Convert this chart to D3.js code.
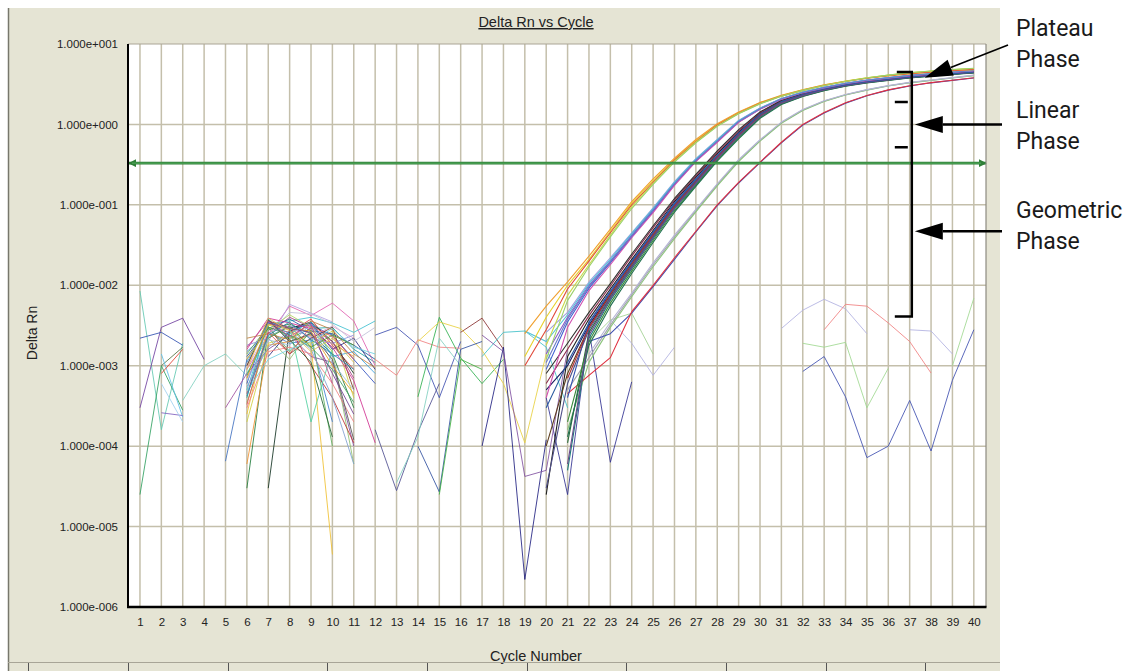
<!DOCTYPE html>
<html>
<head>
<meta charset="utf-8">
<script src="https://cdn.jsdelivr.net/npm/d3@7"></script>
<style>
  html, body { margin: 0; padding: 0; background: #fff; }
  svg { display: block; }
  .lbl { font-family: "Liberation Sans", Arial, sans-serif; fill: #222; }
  .phase { font-family: Roboto, "Noto Sans", sans-serif; font-size: 23px; fill: #1a1a1a; }
</style>
</head>
<body>
<svg id="chart" width="1126" height="671"></svg>
<script>
// ---------- data (Delta Rn per cycle) ----------
const cycles = d3.range(1, 41);
const decades = [1e-6, 1e-5, 1e-4, 1e-3, 1e-2, 1e-1, 1, 10];
const threshold = 0.33;

// amplification curves: [first cycle, values from that cycle on]
const ampCurves = [
  // late pair (grey / green)
  [21, [5.0e-4, 1.26e-3, 3.2e-3, 7.6e-3, 1.8e-2, 4.0e-2, 8.5e-2, 0.178, 0.355, 0.63, 1.05, 1.51, 1.95, 2.34, 2.69, 3.02, 3.31, 3.55, 3.80, 4.07]],
  [21, [1.6e-4, 1.1e-3, 3.0e-3, 7.2e-3, 1.7e-2, 3.8e-2, 8.2e-2, 0.172, 0.345, 0.62, 1.03, 1.49, 1.93, 2.32, 2.67, 3.00, 3.29, 3.53, 3.78, 4.04]],
  [22, [1.4e-3, 3.5e-3, 8.0e-3, 1.9e-2, 4.2e-2, 8.8e-2, 0.183, 0.365, 0.645, 1.07, 1.53, 1.97, 2.36, 2.71, 3.04, 3.33, 3.57, 3.82, 4.10]],
  // latest pair (blue / red)
  [22, [2.0e-3, 2.5e-3, 4.5e-3, 9.6e-3, 2.1e-2, 4.6e-2, 0.098, 0.187, 0.335, 0.59, 0.98, 1.39, 1.84, 2.27, 2.67, 3.00, 3.29, 3.53, 3.78]],
  [21, [4.5e-4, 7.6e-4, 1.26e-3, 4.7e-3, 1.0e-2, 2.2e-2, 4.7e-2, 0.10, 0.19, 0.34, 0.60, 1.0, 1.41, 1.86, 2.29, 2.69, 3.02, 3.31, 3.55, 3.80]],
  // main group
  [20, [5.0e-4, 1.0e-3, 3.2e-3, 7.9e-3, 1.9e-2, 4.4e-2, 0.10, 0.20, 0.40, 0.76, 1.32, 1.91, 2.34, 2.75, 3.09, 3.39, 3.63, 3.89, 4.07, 4.27, 4.47]],
  [20, [2.5e-5, 1.3e-3, 3.8e-3, 9.0e-3, 2.1e-2, 4.8e-2, 0.11, 0.22, 0.43, 0.80, 1.36, 1.95, 2.40, 2.80, 3.15, 3.45, 3.70, 3.95, 4.15, 4.35, 4.55]],
  [21, [1.1e-4, 2.6e-3, 7.0e-3, 1.7e-2, 4.0e-2, 9.3e-2, 0.19, 0.38, 0.72, 1.27, 1.86, 2.30, 2.70, 3.05, 3.35, 3.60, 3.85, 4.05, 4.25, 4.45]],
  [20, [1.0e-4, 8.0e-4, 3.0e-3, 7.5e-3, 1.8e-2, 4.2e-2, 9.6e-2, 0.195, 0.39, 0.74, 1.30, 1.89, 2.32, 2.72, 3.06, 3.36, 3.61, 3.86, 4.05, 4.24, 4.43]],
  [21, [4.0e-4, 3.5e-3, 8.5e-3, 2.0e-2, 4.6e-2, 0.105, 0.21, 0.41, 0.78, 1.34, 1.93, 2.37, 2.78, 3.12, 3.42, 3.67, 3.92, 4.10, 4.30, 4.50]],
  [21, [5.0e-5, 2.2e-3, 6.5e-3, 1.6e-2, 3.8e-2, 8.9e-2, 0.18, 0.37, 0.70, 1.24, 1.83, 2.27, 2.68, 3.02, 3.32, 3.57, 3.82, 4.02, 4.22, 4.42]],
  [20, [6.0e-4, 1.6e-3, 4.2e-3, 9.8e-3, 2.3e-2, 5.2e-2, 0.115, 0.23, 0.45, 0.83, 1.40, 1.98, 2.42, 2.82, 3.16, 3.46, 3.71, 3.96, 4.16, 4.36, 4.56]],
  [21, [2.0e-4, 2.0e-3, 6.0e-3, 1.5e-2, 3.6e-2, 8.5e-2, 0.175, 0.36, 0.68, 1.22, 1.80, 2.24, 2.65, 3.00, 3.30, 3.55, 3.80, 4.00, 4.20, 4.40]],
  [20, [3.0e-5, 6.0e-4, 2.8e-3, 7.2e-3, 1.75e-2, 4.1e-2, 9.4e-2, 0.19, 0.385, 0.73, 1.29, 1.88, 2.31, 2.71, 3.05, 3.35, 3.60, 3.85, 4.03, 4.22, 4.41]],
  [21, [7.0e-4, 3.0e-3, 7.8e-3, 1.85e-2, 4.3e-2, 0.098, 0.20, 0.395, 0.75, 1.31, 1.90, 2.33, 2.74, 3.08, 3.38, 3.62, 3.88, 4.06, 4.26, 4.46]],
  [21, [1.3e-4, 1.8e-3, 5.5e-3, 1.4e-2, 3.4e-2, 8.1e-2, 0.17, 0.35, 0.66, 1.19, 1.77, 2.22, 2.62, 2.98, 3.28, 3.53, 3.78, 3.98, 4.18, 4.38]],
  [20, [8.0e-4, 1.9e-3, 4.6e-3, 1.05e-2, 2.45e-2, 5.5e-2, 0.12, 0.24, 0.47, 0.86, 1.43, 2.00, 2.44, 2.84, 3.18, 3.48, 3.73, 3.98, 4.18, 4.38, 4.58]],
  [21, [6.0e-5, 2.4e-3, 6.8e-3, 1.65e-2, 3.9e-2, 9.1e-2, 0.185, 0.375, 0.71, 1.25, 1.84, 2.28, 2.69, 3.03, 3.33, 3.58, 3.83, 4.03, 4.23, 4.43]],
  [20, [3.0e-4, 1.1e-3, 3.4e-3, 8.2e-3, 1.95e-2, 4.5e-2, 0.102, 0.205, 0.41, 0.77, 1.33, 1.92, 2.35, 2.76, 3.10, 3.40, 3.64, 3.90, 4.08, 4.28, 4.48]],
  // second group
  [20, [1.4e-3, 4.0e-3, 1.0e-2, 2.0e-2, 4.2e-2, 8.7e-2, 0.186, 0.363, 0.63, 1.10, 1.58, 2.09, 2.51, 2.88, 3.24, 3.55, 3.80, 4.07, 4.27, 4.47, 4.68]],
  [20, [2.6e-3, 4.6e-3, 1.1e-2, 2.2e-2, 4.5e-2, 9.2e-2, 0.195, 0.375, 0.65, 1.12, 1.60, 2.10, 2.52, 2.90, 3.25, 3.56, 3.82, 4.08, 4.28, 4.48, 4.70]],
  [20, [9.0e-4, 3.5e-3, 9.2e-3, 1.9e-2, 4.0e-2, 8.3e-2, 0.180, 0.350, 0.61, 1.07, 1.55, 2.06, 2.48, 2.85, 3.20, 3.52, 3.78, 4.04, 4.24, 4.44, 4.64]],
  [20, [4.0e-4, 3.0e-3, 8.6e-3, 1.8e-2, 3.9e-2, 8.0e-2, 0.175, 0.345, 0.60, 1.06, 1.54, 2.05, 2.47, 2.84, 3.20, 3.50, 3.76, 4.02, 4.22, 4.42, 4.62]],
  [19, [2.7e-3, 2.0e-3, 4.3e-3, 1.05e-2, 2.1e-2, 4.4e-2, 9.0e-2, 0.190, 0.37, 0.64, 1.11, 1.59, 2.10, 2.52, 2.90, 3.25, 3.56, 3.82, 4.08, 4.28, 4.48, 4.70]],
  [20, [1.1e-3, 3.8e-3, 9.6e-3, 1.95e-2, 4.1e-2, 8.6e-2, 0.183, 0.357, 0.62, 1.09, 1.57, 2.08, 2.50, 2.87, 3.23, 3.54, 3.79, 4.05, 4.25, 4.45, 4.66]],
  // earliest group
  [19, [1.3e-3, 4.0e-3, 1.0e-2, 2.1e-2, 4.7e-2, 0.105, 0.20, 0.37, 0.63, 1.0, 1.41, 1.86, 2.29, 2.69, 3.09, 3.47, 3.80, 4.07, 4.37, 4.57, 4.79, 4.95]],
  [19, [2.5e-3, 5.5e-3, 1.1e-2, 2.3e-2, 5.0e-2, 0.11, 0.21, 0.38, 0.65, 1.02, 1.43, 1.88, 2.30, 2.70, 3.10, 3.45, 3.75, 4.00, 4.25, 4.45, 4.65, 4.80]],
  [19, [1.0e-3, 2.8e-3, 9.0e-3, 2.0e-2, 4.5e-2, 0.10, 0.19, 0.36, 0.61, 0.98, 1.38, 1.83, 2.25, 2.65, 3.05, 3.42, 3.75, 4.05, 4.30, 4.50, 4.70, 4.85]],
  [20, [1.8e-3, 7.5e-3, 1.8e-2, 4.2e-2, 9.5e-2, 0.185, 0.35, 0.60, 0.96, 1.37, 1.82, 2.25, 2.65, 3.05, 3.45, 3.80, 4.10, 4.40, 4.60, 4.80, 4.95]],
  [20, [1.2e-3, 6.5e-3, 1.7e-2, 4.0e-2, 9.0e-2, 0.18, 0.34, 0.59, 0.95, 1.36, 1.80, 2.24, 2.65, 3.05, 3.42, 3.78, 4.10, 4.40, 4.62, 4.82, 5.00]]
];
const ampColors = [
  "#a4a4b0", "#8cc47c", "#b4b4d4",
  "#4050b0", "#e03040",
  "#1a1a60", "#202020", "#2a6a3a", "#604020", "#3050b0", "#1a7a7a", "#8a2a4a",
  "#3a8a3a", "#50508a", "#b03030", "#207050", "#303030", "#6a4a8a", "#2a5aa0",
  "#8a5ac8", "#a0a0e0", "#4060d0", "#d050b0", "#50c0d8", "#6a7ac8",
  "#e8d02a", "#f0a030", "#e04a3a", "#c8d84a", "#9ad06a"
];

// baseline noise: [first cycle, values] (negative readings leave gaps)
const baselineTraces = [
  [6, [6.0e-4, 3.5e-3, 3.0e-3, 3.2e-3, 2.4e-3, 1.2e-3, 6.0e-4]],
  [6, [1.2e-3, 3.0e-3, 2.6e-3, 3.8e-3, 1.8e-3, 9.0e-4]],
  [6, [3.0e-5, 2.8e-3, 3.3e-3, 2.5e-3, 1.4e-3, 3.0e-4]],
  [6, [4.0e-4, 3.8e-3, 2.2e-3, 2.9e-3, 3.0e-3, 1.6e-3, 1.1e-3]],
  [7, [3.0e-5, 2.9e-3, 3.5e-3, 2.0e-3, 8.0e-4]],
  [6, [9.0e-4, 2.4e-3, 5.5e-3, 4.2e-3, 6.0e-3, 3.6e-3, 1.0e-3]],
  [6, [7.0e-4, 2.0e-3, 5.8e-3, 4.5e-3, 3.5e-3]],
  [6, [2.5e-4, 3.2e-3, 2.8e-3, 1.8e-3, 4.5e-6]],
  [6, [1.5e-3, 2.6e-3, 1.9e-3, 2.1e-3, 2.0e-4]],
  [6, [5.0e-4, 3.3e-3, 3.6e-3, 4.0e-3, 3.4e-3, 2.6e-3, 3.6e-3]],
  [6, [8.0e-4, 1.6e-3, 2.4e-3, 1.3e-3, 1.1e-3, 1.0e-4]],
  [6, [3.5e-4, 2.2e-3, 1.2e-3, 2.8e-3, 1.5e-3, 6.0e-5]],
  [6, [1.0e-3, 3.6e-3, 3.0e-3, 1.0e-3, 4.0e-4, 1.1e-4]],
  [6, [6.0e-5, 1.8e-3, 2.0e-3, 2.4e-3, 1.9e-3, 1.3e-3]],
  [7, [1.3e-3, 2.7e-3, 3.4e-3, 1.6e-3, 2.2e-3, 9.0e-4]],
  [6, [1.4e-3, 3.1e-3, 1.5e-3, 2.6e-3, 1.0e-4]],
  [6, [4.5e-4, 2.5e-3, 4.0e-3, 3.0e-3, 2.0e-3, 7.0e-4]],
  [6, [2.0e-4, 1.9e-3, 2.3e-3, 1.9e-3, 2.7e-3, 4.0e-4]],
  [6, [1.1e-3, 3.4e-3, 2.5e-3, 3.5e-3, 1.3e-3, 1.5e-3, 8.0e-4]],
  [7, [3.0e-3, 1.4e-3, 2.2e-3, 3.0e-3, 5.0e-4]],
  [6, [8.0e-4, 2.3e-3, 3.1e-3, 2.0e-4, 1.6e-3]],
  [6, [3.0e-4, 1.5e-3, 1.7e-3, 1.4e-3, 6.0e-4, 2.0e-4]],
  [6, [1.3e-3, 2.9e-3, 3.8e-3, 2.7e-3, 2.5e-3, 1.8e-3, 1.2e-3]],
  [6, [6.5e-4, 2.1e-3, 1.8e-3, 3.3e-3, 1.1e-3, 5.0e-4]],
  [7, [3.7e-3, 2.1e-3, 1.1e-3, 1.3e-4]],
  [6, [9.5e-4, 2.7e-3, 2.9e-3, 2.3e-3, 3.1e-3, 2.2e-3]],
  [6, [1.6e-3, 3.9e-3, 3.4e-3, 2.9e-3, 1.7e-3, 6.5e-4, 1.1e-4]],
  [6, [5.5e-4, 1.7e-3, 2.7e-3, 1.6e-3, 4.0e-4, 6.0e-5]],
  [6, [2.2e-3, 2.5e-3, 2.1e-3, 3.6e-3, 2.8e-3, 1.4e-3, 9.5e-4]],
  [6, [7.5e-4, 3.0e-3, 2.4e-3, 1.7e-3, 9.0e-4, 3.5e-4]],
  [6, [1.8e-3, 2.2e-3, 3.2e-3, 2.2e-3, 1.9e-3, 2.4e-3]],
  [6, [3.3e-4, 2.6e-3, 1.4e-3, 3.1e-3, 2.3e-3, 1.2e-3]],
  [7, [2.4e-3, 4.6e-3, 4.4e-3, 3.3e-3, 2.0e-3, 3.0e-3]],
  [6, [1.0e-3, 3.7e-3, 2.0e-3, 2.5e-3, 1.2e-3, 1.2e-4]],
  [6, [4.8e-4, 1.2e-3, 1.6e-3, 2.0e-3, 2.9e-3, 1.7e-3, 1.4e-3]],
  [6, [1.2e-3, 2.8e-3, 4.3e-3, 3.0e-3, 1.5e-3]],
  [6, [7.0e-4, 3.3e-3, 2.9e-3, 2.7e-3, 1.0e-3, 4.5e-4]],
  [7, [2.2e-3, 3.1e-3, 1.7e-3, 2.4e-3, 1.8e-3]],
  [6, [1.7e-3, 3.6e-3, 2.3e-3, 3.3e-3, 6.0e-4]],
  [6, [4.2e-4, 2.4e-3, 3.5e-3, 2.1e-3, 1.4e-3, 9.0e-4]],
  [7, [3.4e-3, 2.9e-3, 2.6e-3, 8.0e-4, 2.5e-4]],
  [6, [9.0e-4, 3.9e-3, 2.7e-3, 1.5e-3, 2.2e-3, 1.1e-3]],
  // first cycles
  [1, [8.5e-3, 1.6e-4, 1.9e-3]],
  [1, [3.0e-4, 3.0e-3, 3.9e-3, 1.2e-3]],
  [1, [2.2e-3, 2.6e-3, 1.8e-3]],
  [1, [2.5e-5, 1.0e-3, 2.8e-4]],
  [2, [1.0e-3, 1.7e-3]],
  [2, [1.4e-3, 2.3e-4]],
  [2, [2.6e-4, 2.4e-4]],
  [2, [8.0e-4, 1.6e-3]],
  [3, [3.7e-4, 1.0e-3, 1.4e-3, 7.5e-4]],
  [5, [6.5e-5, 1.2e-3]],
  [5, [3.0e-4, 8.0e-4]],
  [2, [6.0e-4, 2.0e-4]],
  // cycles 12 - 26
  [12, [2.4e-3, 3.0e-3, 1.8e-3, 4.0e-4, 2.0e-3]],
  [12, [1.2e-3, 7.6e-4, 2.1e-3, 1.7e-3, 1.65e-3]],
  [16, [2.6e-3, 3.9e-3, 1.6e-3]],
  [14, [4.1e-4, 4.0e-3, 1.25e-3, 6.0e-4, 1.2e-3]],
  [14, [2.0e-3, 3.5e-3, 2.9e-3, 1.55e-3, 6.0e-4, 1.1e-4, 1.4e-3]],
  [12, [1.6e-4, 2.8e-5, 1.5e-4, 6.0e-4]],
  [13, [3.5e-5, 1.3e-4, 2.2e-3, 1.0e-3]],
  [14, [1.0e-4, 2.7e-5, 1.6e-3, 2.0e-3]],
  [15, [2.5e-5, 1.2e-3, 9.0e-4]],
  [17, [1.3e-3, 2.6e-3, 2.7e-3, 1.7e-3, 3.0e-4]],
  [17, [1.0e-4, 1.7e-3, 2.2e-6, 1.2e-4]],
  [20, [4.0e-4, 2.5e-5, 2.8e-3, 6.3e-5, 6.3e-4]],
  [17, [2.4e-3, 1.5e-3, 4.2e-5, 5.0e-5, 1.6e-3]],
  [23, [3.7e-3, 1.9e-3, 7.6e-4, 1.7e-3]],
  [22, [2.0e-3, 3.7e-3, 4.5e-3, 1.4e-3]],
  // cycles 31 - 40
  [31, [2.9e-3, 4.9e-3, 6.7e-3, 5.1e-3, 2.5e-3]],
  [37, [2.8e-3, 2.7e-3, 1.4e-3]],
  [33, [2.8e-3, 5.8e-3, 5.5e-3, 3.4e-3, 2.0e-3, 8.1e-4]],
  [32, [1.9e-3, 1.7e-3, 1.95e-3, 3.0e-4, 9.3e-4]],
  [39, [1.0e-3, 6.9e-3]],
  [32, [8.5e-4, 1.3e-3, 4.1e-4, 7.2e-5, 1.0e-4, 3.7e-4, 8.7e-5, 6.6e-4, 2.8e-3]]
];
const baselineColors = [
  "#3050c0", "#e04040", "#1f7a3a", "#20a0a0", "#103020", "#e060b0", "#b0a0e0", "#f0c030",
  "#4080d0", "#40c0d0", "#8050a0", "#90c070", "#c03030", "#f09030", "#2a2a80", "#60b060",
  "#a04080", "#d0d040", "#3aa0e0", "#7a3a20", "#50d0a0", "#f08080", "#2060a0", "#a0c0e0",
  "#206030", "#e0a0d0", "#d03090", "#80a0d0", "#c08040", "#40a060", "#9090e0", "#e05050",
  "#c0c0d8", "#505050", "#70d0e0", "#b0d060", "#e8a020", "#5a9a2a", "#c04a90", "#2a8ab0",
  "#704090", "#d8c050",
  "#60c8b0", "#7040a0", "#3050b0", "#30a060", "#507040", "#60c0e8", "#8060c0", "#e04030",
  "#80d0c0", "#4070c0", "#a050a0", "#a0d0f0",
  "#4050b0", "#f08080", "#8a3030", "#30b050", "#e8d040", "#505090", "#80d0c0", "#3050a0",
  "#40b040", "#40c0c8", "#202080", "#303090", "#8050a0", "#b0b0e0", "#a0d090",
  "#b0b0e0", "#b0b0e0", "#f08080", "#a0d890", "#a0d890", "#4050b0"
];

// phase annotation, in cycle / Delta Rn units
const bracket = { cycle: 37.1, top: 4.5, bottom: 4.1e-3, ticks: [1.9, 0.52] };
const phaseArrows = [
  { name: ["Linear", "Phase"], value: 1.0 },
  { name: ["Geometric", "Phase"], value: 0.047 }
];
const plateauTip = { cycle: 37.7, value: 3.8 };

// ---------- layout ----------
const svg = d3.select("#chart");
const plot = { left: 128, right: 986, top: 44, bottom: 607 };

const x = d3.scaleLinear().domain([0.44, 40.57]).range([plot.left, plot.right]);
const y = d3.scaleLog().domain([1e-6, 10]).range([plot.bottom, plot.top]);

function sci(v) {
    const e = Math.round(Math.log10(v));
    return "1.000e" + (e < 0 ? "-" : "+") + String(Math.abs(e)).padStart(3, "0");
}

// panel
svg.append("rect").attr("x", 8).attr("y", 8).attr("width", 992).attr("height", 663).attr("fill", "#e5e4d4");
svg.append("line").attr("x1", 8.5).attr("x2", 8.5).attr("y1", 8).attr("y2", 671)
    .attr("stroke", "#77776c").attr("stroke-width", 1.5);
svg.append("rect").attr("x", plot.left).attr("y", plot.top)
    .attr("width", plot.right - plot.left).attr("height", plot.bottom - plot.top).attr("fill", "#fff");

// grid
const grid = svg.append("g").attr("stroke", "#c4bfab").attr("stroke-width", 1.5);
grid.selectAll(".vg").data(cycles).enter().append("line")
    .attr("x1", d => x(d)).attr("x2", d => x(d))
    .attr("y1", plot.top).attr("y2", plot.bottom);
grid.selectAll(".hg").data(decades.slice(1, -1)).enter().append("line")
    .attr("x1", plot.left).attr("x2", plot.right)
    .attr("y1", d => y(d)).attr("y2", d => y(d));

// traces
const lineFunction = d3.line().x(d => x(d[0])).y(d => y(d[1]));
function toPoints(trace) {
    return trace[1].map((v, i) => [trace[0] + i, v]);
}
const traces = svg.append("g").attr("fill", "none").attr("stroke-width", 1).attr("stroke-linejoin", "round");
baselineTraces.forEach((t, i) => {
    traces.append("path").attr("d", lineFunction(toPoints(t)))
        .attr("stroke", baselineColors[i % baselineColors.length]).attr("opacity", 0.85);
});
ampCurves.forEach((t, i) => {
    traces.append("path").attr("d", lineFunction(toPoints(t)))
        .attr("stroke", ampColors[i]).attr("stroke-width", 1.1);
});

// threshold
const defs = svg.append("defs");
defs.append("marker").attr("id", "garrow").attr("viewBox", "0 0 10 10")
    .attr("refX", 9).attr("refY", 5).attr("markerWidth", 3).attr("markerHeight", 3)
    .attr("orient", "auto-start-reverse")
    .append("path").attr("d", "M0,0 L10,5 L0,10 z").attr("fill", "#2f7f38");
svg.append("line")
    .attr("x1", plot.left + 1).attr("x2", plot.right)
    .attr("y1", y(threshold)).attr("y2", y(threshold))
    .attr("stroke", "#2f7f38").attr("stroke-width", 2.6)
    .attr("marker-start", "url(#garrow)").attr("marker-end", "url(#garrow)");
svg.append("line")
    .attr("x1", plot.left + 4).attr("x2", plot.right - 5)
    .attr("y1", y(threshold)).attr("y2", y(threshold))
    .attr("stroke", "#5cb866").attr("stroke-width", 0.8);

// frame
svg.append("line").attr("x1", plot.left).attr("x2", plot.right).attr("y1", plot.top).attr("y2", plot.top)
    .attr("stroke", "#aaa596").attr("stroke-width", 1);
svg.append("line").attr("x1", plot.right).attr("x2", plot.right).attr("y1", plot.top).attr("y2", plot.bottom)
    .attr("stroke", "#8c8a80").attr("stroke-width", 1.2);

// axes
const yAxis = svg.append("g").attr("transform", "translate(" + plot.left + ",0)")
    .call(d3.axisLeft(y).tickValues(decades).tickFormat(sci).tickSize(0).tickPadding(10));
yAxis.selectAll("text").attr("class", "lbl").style("font-size", "11.5px");

const xAxis = svg.append("g").attr("transform", "translate(0," + plot.bottom + ")")
    .call(d3.axisBottom(x).tickValues(cycles).tickFormat(d3.format("d")).tickSize(0).tickPadding(11));
xAxis.selectAll("text").attr("class", "lbl").style("font-size", "11.5px");
svg.selectAll(".domain").remove();
svg.append("line").attr("x1", plot.left).attr("x2", plot.left).attr("y1", plot.top).attr("y2", plot.bottom + 1)
    .attr("stroke", "#000").attr("stroke-width", 2);
svg.append("line").attr("x1", plot.left - 1).attr("x2", plot.right + 0.5).attr("y1", plot.bottom).attr("y2", plot.bottom)
    .attr("stroke", "#000").attr("stroke-width", 2.5);

// titles
svg.append("text").attr("class", "lbl").attr("x", 536).attr("y", 27)
    .attr("text-anchor", "middle").style("font-size", "14.5px")
    .style("text-decoration", "underline").text("Delta Rn vs Cycle");
svg.append("text").attr("class", "lbl")
    .attr("transform", "translate(37,333) rotate(-90)")
    .attr("text-anchor", "middle").style("font-size", "14px").text("Delta Rn");
svg.append("text").attr("class", "lbl").attr("x", 536).attr("y", 661)
    .attr("text-anchor", "middle").style("font-size", "14.5px").text("Cycle Number");

// table header strip at the bottom
svg.append("line").attr("x1", 8).attr("x2", 1000).attr("y1", 662.5).attr("y2", 662.5)
    .attr("stroke", "#a8a597").attr("stroke-width", 1);
const cols = [28, 128, 228, 327, 427, 527, 626, 726, 826, 925];
svg.selectAll(".col").data(cols).enter().append("line")
    .attr("x1", d => d + 0.5).attr("x2", d => d + 0.5).attr("y1", 663).attr("y2", 671)
    .attr("stroke", "#555").attr("stroke-width", 1);

// phase annotation
const ann = svg.append("g").attr("stroke", "#000").attr("fill", "none");
const bx = x(bracket.cycle);
ann.append("path")
    .attr("d", "M" + (bx - 15) + "," + y(bracket.top) + "H" + bx + "V" + y(bracket.bottom) + "H" + (bx - 17))
    .attr("stroke-width", 2.5);
bracket.ticks.forEach(v => {
    ann.append("line").attr("x1", bx - 17).attr("x2", bx - 4)
        .attr("y1", y(v)).attr("y2", y(v)).attr("stroke-width", 2.5);
});

function arrow(x1, y1, x2, y2) {
    // line from (x1,y1) to tip (x2,y2) with filled head
    const ang = Math.atan2(y2 - y1, x2 - x1);
    const len = 28, half = 8.5;
    const bxh = x2 - len * Math.cos(ang), byh = y2 - len * Math.sin(ang);
    ann.append("line").attr("x1", x1).attr("y1", y1).attr("x2", bxh).attr("y2", byh)
        .attr("stroke-width", ang === Math.PI ? 2.5 : 1.6);
    ann.append("path")
        .attr("d", "M" + x2 + "," + y2 +
            "L" + (bxh + half * Math.sin(ang)) + "," + (byh - half * Math.cos(ang)) +
            "L" + (bxh - half * Math.sin(ang)) + "," + (byh + half * Math.cos(ang)) + "Z")
        .attr("fill", "#000").attr("stroke", "none");
}

const labelX = 1016;
phaseArrows.forEach(p => {
    const py = y(p.value);
    arrow(1002, py, bx + 3, py);
});
arrow(1008, 45, x(plateauTip.cycle), y(plateauTip.value));

const phaseText = [
    { lines: ["Plateau", "Phase"], base: 36 },
    { lines: phaseArrows[0].name, base: 118 },
    { lines: phaseArrows[1].name, base: 218 }
];
phaseText.forEach(p => {
    p.lines.forEach((t, i) => {
        svg.append("text").attr("class", "phase").attr("x", labelX)
            .attr("y", p.base + i * 31).text(t);
    });
});
</script>
</body>
</html>
